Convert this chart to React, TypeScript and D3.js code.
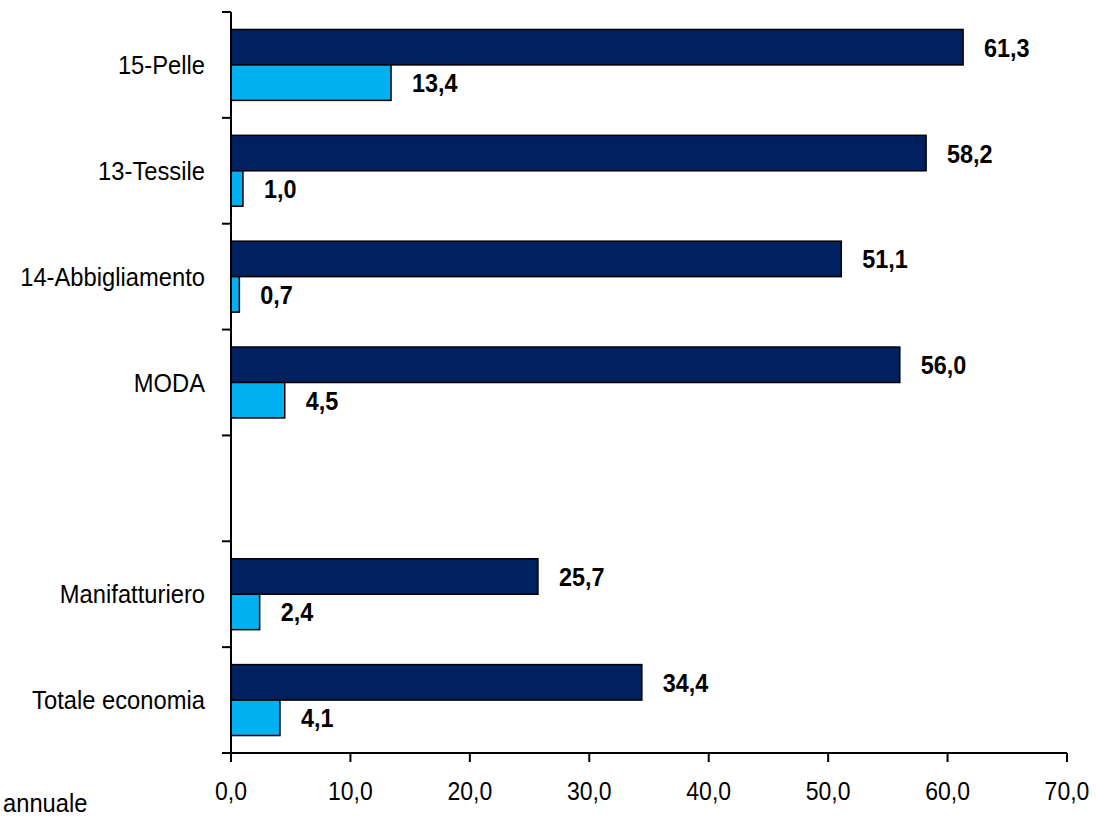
import React from "react";
import * as d3 from "d3";

const categories = ["15-Pelle", "13-Tessile", "14-Abbigliamento", "MODA", "", "Manifatturiero", "Totale economia"];
const seriesDark: (number | null)[] = [61.3, 58.2, 51.1, 56.0, null, 25.7, 34.4];
const seriesLight: (number | null)[] = [13.4, 1.0, 0.7, 4.5, null, 2.4, 4.1];
const xTicks = [0, 10, 20, 30, 40, 50, 60, 70];
const seriesKeys = ["dark", "light"];
const colors: Record<string, string> = { dark: "#002060", light: "#00B0F0" };

const W = 1096;
const H = 818;
const x0 = 231;
const x1 = 1067;
const yTop = 12;
const yBot = 753;

function SText(props: {
  x: number;
  y: number;
  sx: number;
  size: number;
  anchor?: string;
  bold?: boolean;
  children: React.ReactNode;
}) {
  return (
    <g transform={`translate(${props.x},${props.y}) scale(${props.sx},1)`}>
      <text
        x={0}
        y={0}
        fontSize={props.size}
        textAnchor={props.anchor || "start"}
        fontWeight={props.bold ? "bold" : "normal"}
        fill="#000"
      >
        {props.children}
      </text>
    </g>
  );
}

export default function App() {
  const ids = categories.map((_, i) => String(i));
  const x = d3.scaleLinear().domain([0, 70]).range([x0, x1]);
  const y = d3
    .scaleBand<string>()
    .domain(ids)
    .range([yTop, yBot])
    .paddingInner(0.33)
    .paddingOuter(0.165);
  const step = y.step();
  const inner = d3.scaleBand<string>().domain(seriesKeys).range([0, y.bandwidth()]);
  const fmt = (v: number) => v.toFixed(1).replace(".", ",");
  const boundaries = d3.range(categories.length + 1).map((i) => yTop + i * step);
  const font = "'Liberation Sans', Arial, sans-serif";

  return (
    <svg width={W} height={H} style={{ position: "absolute", left: 0, top: 0, background: "#fff" }} fontFamily={font}>
      {ids.map((id, i) => {
        const rows = [
          { key: "dark", v: seriesDark[i] },
          { key: "light", v: seriesLight[i] },
        ];
        return (
          <g key={id}>
            {rows.map((r) =>
              r.v == null ? null : (
                <g key={r.key}>
                  <rect
                    x={x(0)}
                    y={(y(id) as number) + (inner(r.key) as number)}
                    width={x(r.v) - x(0)}
                    height={inner.bandwidth()}
                    fill={colors[r.key]}
                    stroke="#000"
                    strokeWidth={1.5}
                  />
                  <SText
                    x={x(r.v) + 21}
                    y={(y(id) as number) + (inner(r.key) as number) + inner.bandwidth() / 2 + 9.5}
                    sx={0.9}
                    size={26}
                    bold
                  >
                    {fmt(r.v)}
                  </SText>
                </g>
              )
            )}
            <SText x={205} y={yTop + i * step + step / 2 + 9} sx={0.95} size={25} anchor="end">
              {categories[i]}
            </SText>
          </g>
        );
      })}
      {/* axes */}
      <line x1={x0} x2={x0} y1={yTop} y2={yBot} stroke="#000" strokeWidth={2} />
      {boundaries.map((b, i) => (
        <line key={i} x1={222} x2={x0} y1={b} y2={b} stroke="#000" strokeWidth={2} />
      ))}
      <line x1={x0} x2={x1} y1={yBot} y2={yBot} stroke="#000" strokeWidth={2} />
      {xTicks.map((t) => (
        <g key={t}>
          <line x1={x(t)} x2={x(t)} y1={yBot} y2={yBot + 9} stroke="#000" strokeWidth={2} />
          <SText x={x(t)} y={800} sx={0.92} size={25} anchor="middle">
            {fmt(t)}
          </SText>
        </g>
      ))}
      <SText x={3} y={812} sx={0.95} size={25}>
        annuale
      </SText>
    </svg>
  );
}
